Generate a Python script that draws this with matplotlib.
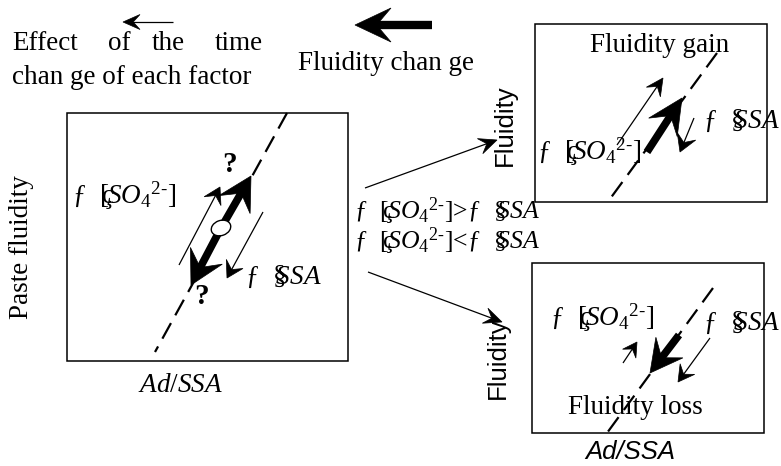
import numpy as np
import matplotlib
matplotlib.use('Agg')
import matplotlib.pyplot as plt
from matplotlib.patches import Polygon, Rectangle, Ellipse

plt.rcParams['font.family'] = ['Liberation Serif', 'DejaVu Serif']
plt.rcParams['mathtext.fontset'] = 'custom'
plt.rcParams['mathtext.rm'] = 'Liberation Serif'
plt.rcParams['mathtext.it'] = 'Liberation Serif:italic'
plt.rcParams['mathtext.bf'] = 'Liberation Serif:bold'

W, H = 781, 466
FS = 19.5      # serif text
FS_SANS = 18.5

# --- diagram geometry (pixel space, y downwards)
BOXES = {'main': (67, 113, 348, 361), 'gain': (535, 24, 767, 202), 'loss': (532, 263, 764, 433)}
DASHED = {'main': ((287, 113), (155, 352)), 'gain': ((717, 53), (607, 203)),
          'loss': ((713, 288), (607, 433))}
SO4 = r"ƒ  [$\!\!$ç$\!\!SO_{4}{}^{2\text{-}}$]"
SSA = r"ƒ  $\S\!\!\!SSA$"

fig = plt.figure(figsize=(W / 100, H / 100), dpi=100)
ax = fig.add_axes([0, 0, 1, 1])
ax.set_xlim(0, W); ax.set_ylim(H, 0); ax.axis('off')


def head(tip, frm, L, Wd, notch=0.6):
    tip = np.array(tip, float); u = tip - np.array(frm, float); u /= np.hypot(*u)
    n = np.array([-u[1], u[0]])
    b = tip - L * u
    pts = [tip, b + Wd / 2 * n, tip - notch * L * u, b - Wd / 2 * n]
    ax.add_patch(Polygon(pts, closed=True, fc='k', ec='k', lw=0.5, zorder=5))


def arrow(p0, p1, lw=0.9, L=16, Wd=16):
    p0 = np.array(p0, float); p1 = np.array(p1, float)
    u = (p1 - p0) / np.hypot(*(p1 - p0))
    end = p1 - 0.5 * L * u
    ax.plot([p0[0], end[0]], [p0[1], end[1]], color='k', lw=lw, solid_capstyle='butt', zorder=4)
    head(p1, p0, L, Wd)


# boxes and dashed lines
for k, (x0, y0, x1, y1) in BOXES.items():
    ax.add_patch(Rectangle((x0, y0), x1 - x0, y1 - y0, fill=False, ec='k', lw=1.1, zorder=3))
    (a, b) = DASHED[k]
    ax.plot([a[0], b[0]], [a[1], b[1]], color='k', lw=1.6, dashes=(8, 4), zorder=3)

# legend at top
arrow((173, 22), (123, 22), lw=0.9, L=17, Wd=15)
ax.text(12, 50, 'Effect', fontsize=FS, va='baseline')
ax.text(108, 50, 'of', fontsize=FS, va='baseline')
ax.text(152, 50, 'the', fontsize=FS, va='baseline')
ax.text(263, 50, 'time', fontsize=FS, va='baseline', ha='right')
ax.text(12, 84, 'chan ge of each factor', fontsize=FS, va='baseline')
arrow((432, 25), (355, 25), lw=6, L=36, Wd=34)
ax.text(298, 70, 'Fluidity chan ge', fontsize=FS, va='baseline')

# main box
ax.text(22, 247, 'Paste fluidity', fontsize=FS, rotation=90, ha='center', va='center')
ax.text(180, 392, r'$Ad/SSA$', fontsize=FS, ha='center', va='baseline')
arrow((221, 228), (251, 176), lw=5.5, L=33, Wd=36)
arrow((221, 228), (191, 285), lw=5.5, L=33, Wd=36)
ax.add_patch(Ellipse((221, 228), 20, 15, angle=-20, fc='white', ec='k', lw=1, zorder=6))
ax.text(229, 172, '?', fontsize=21, fontweight='bold', ha='center', va='baseline')
ax.text(201, 304, '?', fontsize=21, fontweight='bold', ha='center', va='baseline')
arrow((179, 265), (220, 187), lw=0.9, L=16, Wd=19)
arrow((263, 212), (227, 278), lw=0.9, L=16, Wd=19)
ax.text(72, 204, SO4, fontsize=FS, va='baseline')
ax.text(245, 284, SSA, fontsize=FS, va='baseline')

# middle
ax.text(354, 219, SO4 + '>' + SSA, fontsize=18.5, va='baseline')
ax.text(354, 249, SO4 + '<' + SSA, fontsize=18.5, va='baseline')
arrow((365, 188), (497, 140), lw=0.9, L=18, Wd=16)
arrow((368, 272), (502, 322), lw=0.9, L=18, Wd=16)

# fluidity gain
ax.text(660, 52, 'Fluidity gain', fontsize=FS, ha='center', va='baseline')
ax.text(505, 125, 'Fluidity', fontsize=FS_SANS, family='Liberation Sans', rotation=90,
        ha='center', va='center')
arrow((647, 152), (682, 98), lw=5.5, L=35, Wd=34)
arrow((617, 145), (663, 78), lw=0.9, L=17, Wd=17)
arrow((694, 118), (680, 152), lw=0.9, L=17, Wd=20)
ax.text(537, 160, SO4, fontsize=FS, va='baseline')
ax.text(703, 128, SSA, fontsize=FS, va='baseline')

# fluidity loss
ax.text(635, 414, 'Fluidity loss', fontsize=FS, ha='center', va='baseline')
ax.text(498, 358, 'Fluidity', fontsize=FS_SANS, family='Liberation Sans', rotation=90,
        ha='center', va='center')
ax.text(630, 459, 'Ad/SSA', fontsize=FS_SANS, family='Liberation Sans', style='italic',
        ha='center', va='baseline')
arrow((679, 335), (650, 373), lw=5.5, L=32, Wd=34)
arrow((623, 363), (637, 342), lw=0.9, L=14, Wd=16)
arrow((710, 338), (678, 382), lw=0.9, L=16, Wd=18)
ax.text(550, 326, SO4, fontsize=FS, va='baseline')
ax.text(703, 330, SSA, fontsize=FS, va='baseline')

fig.savefig('out.png', dpi=100)
